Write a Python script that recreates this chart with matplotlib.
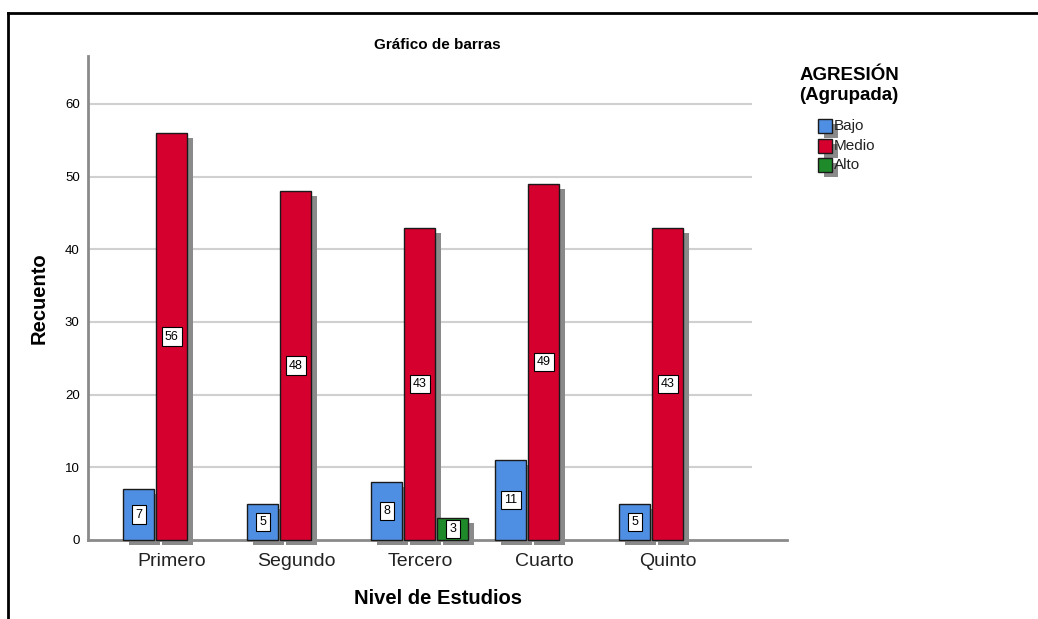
import numpy as np
import matplotlib
matplotlib.use('Agg')
import matplotlib.pyplot as plt
import matplotlib.patheffects as pe
from matplotlib.patches import Rectangle
from matplotlib.lines import Line2D

plt.rcParams['font.family'] = ['Liberation Sans', 'DejaVu Sans']

# data
niveles = ['Primero', 'Segundo', 'Tercero', 'Cuarto', 'Quinto']
grupos = ['Bajo', 'Medio', 'Alto']
bajo = [7, 5, 8, 11, 5]
medio = [56, 48, 43, 49, 43]
alto = [0, 0, 3, 0, 0]
colores = ['#4f8fe3', '#d5002e', '#1e8a2a']
yticks = [0, 10, 20, 30, 40, 50, 60]

fig = plt.figure(figsize=(10.38, 6.19), dpi=100)
ax = fig.add_axes([88/1038, 1-540/619, 699/1038, 484/619])

shadow = [pe.SimplePatchShadow(offset=(4.3, -3.6), shadow_rgbFace='#8a8a8a', alpha=1.0), pe.Normal()]

x = np.arange(len(niveles))
slot = 0.266
width = 0.25
for j, vals in enumerate([bajo, medio, alto]):
    for i, v in enumerate(vals):
        if v == 0:
            continue
        xi = x[i] + (j - 1) * slot
        b = ax.bar(xi, v, width=width, color=colores[j], edgecolor='#1a1a1a', linewidth=1.0,
                   zorder=3, clip_on=False)
        b[0].set_path_effects(shadow)
        ax.text(xi, v / 2, str(v), ha='center', va='center', fontsize=9, zorder=5,
                bbox=dict(boxstyle='square,pad=0.25', fc='white', ec='black', lw=0.8))

ax.set_xlim(-0.677, 4.96)
ax.set_ylim(0, 66.6)
ax.hlines(yticks[1:], -0.677, 4.677, color='#d0d0d0', lw=1.5, zorder=0)
ax.set_yticks(yticks)
ax.set_xticks(x)
ax.set_xticklabels(niveles, fontsize=14, color='#222222')
ax.tick_params(axis='y', length=0, labelsize=9.5, pad=6)
ax.tick_params(axis='x', length=0, pad=9)
for s in ['top', 'right']:
    ax.spines[s].set_visible(False)
for s in ['left', 'bottom']:
    ax.spines[s].set_color('#8a8a8a')
    ax.spines[s].set_linewidth(2)

ax.set_title('Gráfico de barras', fontsize=11, fontweight='bold', pad=5)
ax.set_ylabel('Recuento', fontsize=14.5, fontweight='bold', labelpad=12)
ax.set_xlabel('Nivel de Estudios', fontsize=14.5, fontweight='bold', labelpad=14)

# legend drawn by hand (SPSS style)
W, H = 1038, 619
fig.text(849/W, 1-75/H, 'AGRESIÓN', fontsize=13.5, fontweight='bold', va='center', ha='center')
fig.text(849/W, 1-95/H, '(Agrupada)', fontsize=13.5, fontweight='bold', va='center', ha='center')
for k, (g, c) in enumerate(zip(grupos, colores)):
    yc = 126 + k * 19.5
    r = Rectangle((818/W, 1-(yc+7)/H), 14/W, 14/H, transform=fig.transFigure,
                  fc=c, ec='#1a1a1a', lw=1.0)
    r.set_path_effects(shadow)
    fig.patches.append(r)
    fig.text(834/W, 1-yc/H, g, fontsize=11, va='center', ha='left', color='#222222')

# outer frame (top and left edges)
fig.add_artist(Line2D([8/W, 1.0], [1-13/H, 1-13/H], transform=fig.transFigure, color='black', lw=2))
fig.add_artist(Line2D([8/W, 8/W], [1-13/H, 0.0], transform=fig.transFigure, color='black', lw=2))

fig.savefig('out.png', dpi=100)
